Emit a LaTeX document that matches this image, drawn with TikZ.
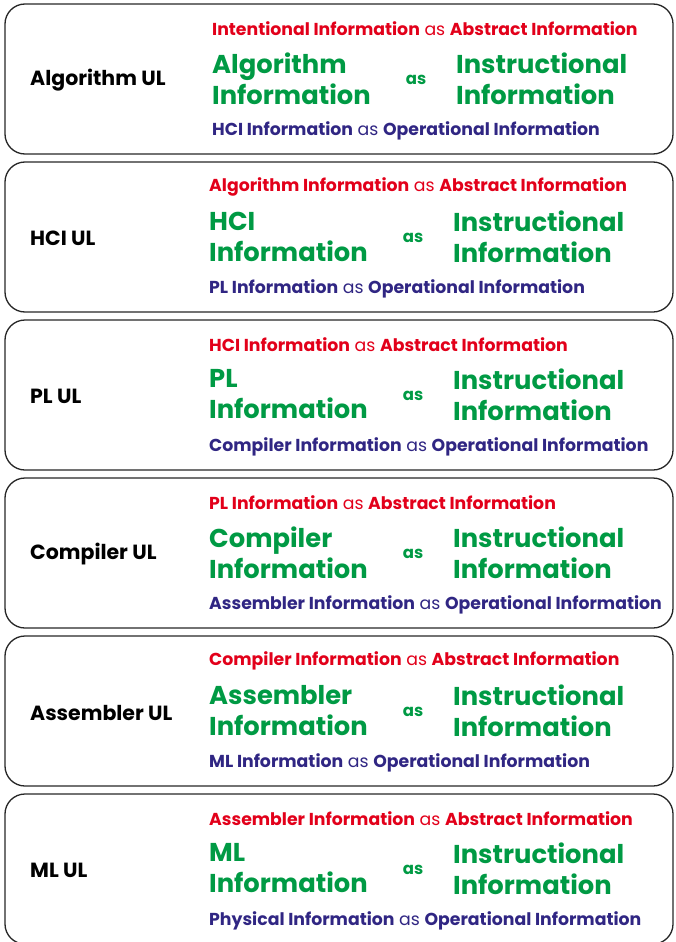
\documentclass[tikz,border=0pt]{standalone}
\usepackage{fontspec}
\setmainfont{Poppins}
\definecolor{cred}{HTML}{E2001A}
\definecolor{cgreen}{HTML}{009A44}
\definecolor{cnavy}{HTML}{302683}
\tikzset{
  ulbox/.style={draw=black!85, line width=1.3pt, rounded corners=20pt},
  ullabel/.style={anchor=west, inner sep=0pt, font=\fontsize{20.5}{24}\selectfont\bfseries, text=black},
  redline/.style={anchor=west, inner sep=0pt, font=\fontsize{17.3}{20}\selectfont, text=cred},
  navyline/.style={anchor=west, inner sep=0pt, font=\fontsize{17.3}{20}\selectfont, text=cnavy},
  greentxt/.style={anchor=west, inner sep=0pt, align=left, font=\fontsize{25.8}{31}\selectfont\bfseries, text=cgreen},
  greenas/.style={anchor=center, inner sep=0pt, font=\fontsize{16.5}{19}\selectfont\bfseries, text=cgreen}
}
\begin{document}
\begin{tikzpicture}[x=1pt,y=-1pt]
\useasboundingbox (0,0) rectangle (675,942);
\foreach \i/\lab/\up/\me/\down/\dx in {
  0/Algorithm/Intentional/Algorithm/HCI/3,
  1/HCI/Algorithm/HCI/PL/0,
  2/PL/HCI/PL/Compiler/0,
  3/Compiler/PL/Compiler/Assembler/0,
  4/Assembler/Compiler/Assembler/ML/0,
  5/ML/Assembler/ML/Physical/0}{
  \pgfmathsetmacro{\t}{4+158*\i}
  \draw[ulbox] (5,\t) rectangle (673,\t+150) node[coordinate] (box\i) {};
  \node[ullabel] (lab\i) at (30,\t+76.5) {\lab\ UL};
  \node[redline] (red\i) at (209+\dx,\t+24.5) {\textbf{\up\ Information} as \textbf{Abstract Information}};
  \node[greentxt] (gl\i) at (209+\dx,\t+74.5) {\me\\Information};
  \node[greenas] (as\i) at (413+\dx,\t+76) {as};
  \node[greentxt] (gr\i) at (453+\dx,\t+74.5) {Instructional\\Information};
  \node[navyline] (navy\i) at (209+\dx,\t+126.5) {\textbf{\down\ Information} as \textbf{Operational Information}};
}
\end{tikzpicture}
\end{document}
